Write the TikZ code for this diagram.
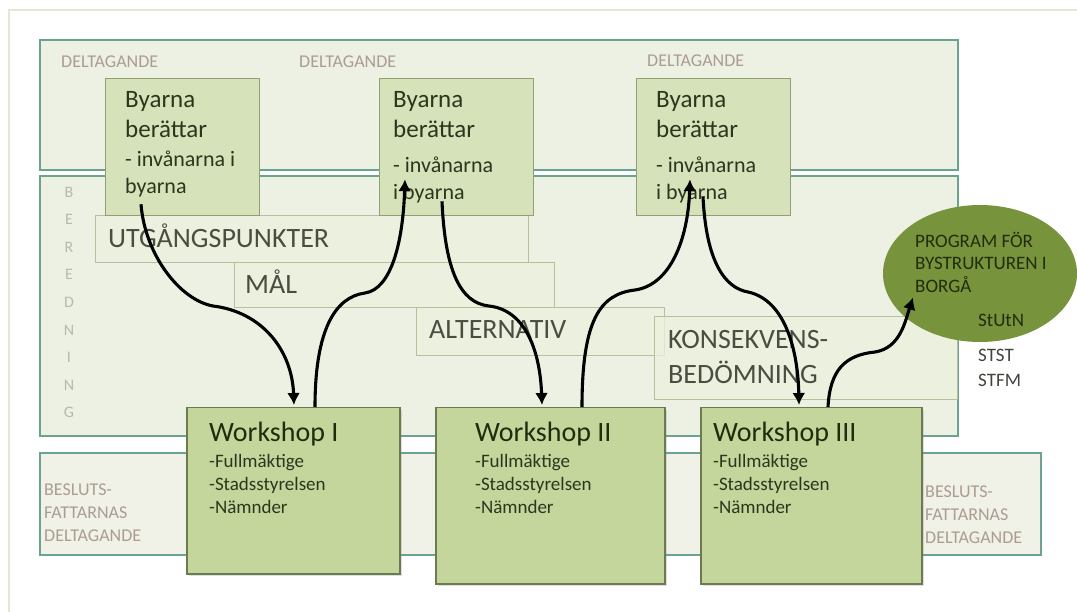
\documentclass[tikz,border=0pt]{standalone}
\usepackage{fontspec}
\setmainfont{Carlito}
\usepackage{xcolor}
\usetikzlibrary{arrows.meta,positioning,shapes.geometric,shadows}

\definecolor{framegray}{RGB}{232,228,214}
\definecolor{bandline}{RGB}{108,163,143}
\definecolor{bandfill}{RGB}{237,241,228}
\definecolor{lowfill}{RGB}{240,241,231}
\definecolor{byafill}{RGB}{214,226,186}
\definecolor{byaline}{RGB}{148,158,118}
\definecolor{stagefill}{RGB}{236,241,222}
\definecolor{stageline}{RGB}{183,192,155}
\definecolor{wsfill}{RGB}{196,214,155}
\definecolor{wsline}{RGB}{108,122,82}
\definecolor{progfill}{RGB}{119,147,60}
\definecolor{faintlabel}{RGB}{172,156,146}
\definecolor{sidelabel}{RGB}{184,184,176}
\definecolor{boxtext}{RGB}{44,54,30}
\definecolor{stagetext}{RGB}{74,78,64}
\definecolor{progtext}{RGB}{34,44,12}
\definecolor{ruletext}{RGB}{66,68,62}

\tikzset{
  band/.style={draw=bandline, line width=2.2pt, fill=bandfill},
  byabox/.style={draw=byaline, line width=1.3pt, fill=byafill, anchor=north west,
    inner sep=0pt, minimum height=137pt, minimum width=154pt},
  stagebox/.style={draw=stageline, line width=1.1pt, fill=stagefill, fill opacity=0.75,
    anchor=north west, inner sep=0pt},
  wsbox/.style={draw=wsline, line width=1.5pt, fill=wsfill, anchor=north west, inner sep=0pt,
    drop shadow={shadow xshift=2pt, shadow yshift=-2pt, opacity=0.25}},
  progell/.style={ellipse, fill=progfill, inner sep=0pt, minimum width=194pt, minimum height=137pt},
  txt/.style={anchor=base west, inner sep=0pt, text=boxtext},
  faint/.style={anchor=base west, inner sep=0pt, text=faintlabel, font=\fontsize{18}{22}\selectfont},
  stagelbl/.style={anchor=base west, inner sep=0pt, text=stagetext, font=\fontsize{28}{32}\selectfont},
  flow/.style={line width=3.1pt, -{Latex[length=12pt,width=13pt]}},
}

\begin{document}
\begin{tikzpicture}[x=1pt,y=-1pt]
\useasboundingbox (0,0) rectangle (1077,612);
\fill[white] (0,0) rectangle (1077,612);
\draw[framegray, line width=1.2pt] (1077,10) -- (9,10) -- (9,612);

% bands
\draw[band] (40,40) rectangle (958,170);
\draw[band] (40,176) rectangle (958,436);
\draw[band, fill=lowfill] (40,453) rectangle (1041,555);

\node[faint] (del1) at (61,68) {DELTAGANDE};
\node[faint] (del2) at (299,68) {DELTAGANDE};
\node[faint] (del3) at (647,67) {DELTAGANDE};

\foreach \ch [count=\i] in {B,E,R,E,D,N,I,N,G}
  \node[text=sidelabel, font=\fontsize{16}{18}\selectfont, inner sep=0pt] (ber\i) at (69,{192+27.6*(\i-1)}) {\ch};

\node[faint] (bes1) at (44,495) {BESLUTS-};
\node[faint] (bes2) at (44,518) {FATTARNAS};
\node[faint] (bes3) at (44,541) {DELTAGANDE};
\node[faint] (bes4) at (925,497) {BESLUTS-};
\node[faint] (bes5) at (925,520) {FATTARNAS};
\node[faint] (bes6) at (925,543) {DELTAGANDE};

% stages
\node[stagebox, minimum width=433pt, minimum height=47pt] (utg) at (95,215) {};
\node[stagebox, minimum width=320pt, minimum height=45pt] (mal) at (234,262) {};
\node[stagebox, minimum width=248pt, minimum height=48pt] (alt) at (416,307) {};
\node[stagebox, minimum width=303pt, minimum height=83pt] (kons) at (654,316) {};
\node[stagelbl] (utgl) at (108,248) {UTGÅNGSPUNKTER};
\node[stagelbl] (mall) at (245,294) {MÅL};
\node[stagelbl] (altl) at (429,339) {ALTERNATIV};
\node[stagelbl] (konsl) at (668,349) {KONSEKVENS-};
\node[stagelbl] (konsm) at (668,384) {BEDÖMNING};

% villages
\foreach \bx/\tx/\nm/\la/\lb/\dy in {105/125/by1/{- invånarna i}/byarna/0,
    379/393/by2/{- invånarna}/{i byarna}/6, 636/656/by3/{- invånarna}/{i byarna}/6}{
  \node[byabox] (\nm) at (\bx,78) {};
  \node[txt, font=\fontsize{25}{30}\selectfont] (\nm-a) at (\tx,108) {Byarna};
  \node[txt, font=\fontsize{25}{30}\selectfont] (\nm-b) at (\tx,138) {berättar};
  \node[txt, font=\fontsize{22}{26}\selectfont] (\nm-c) at (\tx,167+\dy) {\la};
  \node[txt, font=\fontsize{22}{26}\selectfont] (\nm-d) at (\tx,194+\dy) {\lb};
}

% workshops
\foreach \wx/\ww/\wh/\tx/\nm/\num in {186/213/166/209/ws1/I, 435/229/176/475/ws2/II, 700/221/176/713/ws3/III}{
  \node[wsbox, minimum width=\ww pt, minimum height=\wh pt] (\nm) at (\wx,407) {};
  \node[txt, text=progtext, font=\fontsize{28}{32}\selectfont] (\nm-a) at (\tx,441) {Workshop \num};
  \node[txt, font=\fontsize{19}{23}\selectfont] (\nm-b) at (\tx,467) {-Fullmäktige};
  \node[txt, font=\fontsize{19}{23}\selectfont] (\nm-c) at (\tx,490) {-Stadsstyrelsen};
  \node[txt, font=\fontsize{19}{23}\selectfont] (\nm-d) at (\tx,513) {-Nämnder};
}

% programme
\node[progell] (prog) at (980,273.5) {};
\node[txt, text=progtext, font=\fontsize{19}{23}\selectfont] (prog-a) at (915,248) {PROGRAM FÖR};
\node[txt, text=progtext, font=\fontsize{19}{23}\selectfont] (prog-b) at (915,270) {BYSTRUKTUREN I};
\node[txt, text=progtext, font=\fontsize{19}{23}\selectfont] (prog-c) at (915,293) {BORGÅ};
\node[txt, text=progtext, font=\fontsize{19}{23}\selectfont] (prog-d) at (978,327) {StUtN};
\node[txt, text=ruletext, font=\fontsize{19}{23}\selectfont] (stst) at (978,362) {STST};
\node[txt, text=ruletext, font=\fontsize{19}{23}\selectfont] (stfm) at (978,387) {STFM};

% flows
\draw[flow] ([xshift=36pt,yshift=12pt]by1.south west) .. controls (145,255) and (180,300) .. (213,306)
  .. controls (262,312) and (292,350) .. ([xshift=108pt,yshift=2pt]ws1.north west);
\draw[flow] ([xshift=129pt]ws1.north west) .. controls (315,330) and (335,297) .. (365,293)
  .. controls (392,289) and (403,240) .. ([xshift=26pt,yshift=37pt]by2.south west);
\draw[flow] ([xshift=63pt,yshift=15pt]by2.south west) .. controls (445,270) and (460,303) .. (489,306)
  .. controls (525,310) and (540,350) .. ([xshift=107pt,yshift=2pt]ws2.north west);
\draw[flow] ([xshift=147pt]ws2.north west) .. controls (582,320) and (600,294) .. (635,290)
  .. controls (670,285) and (688,240) .. ([xshift=54pt,yshift=37pt]by3.south west);
\draw[flow] ([xshift=67pt,yshift=20pt]by3.south west) .. controls (706,262) and (725,288) .. (748,292)
  .. controls (785,300) and (798,350) .. ([xshift=99pt,yshift=2pt]ws3.north west);
\draw[flow] ([xshift=128pt]ws3.north west) .. controls (830,370) and (845,355) .. (875,352)
  .. controls (900,348) and (905,322) .. ([xshift=-67pt,yshift=-24pt]prog.center);
\end{tikzpicture}
\end{document}
